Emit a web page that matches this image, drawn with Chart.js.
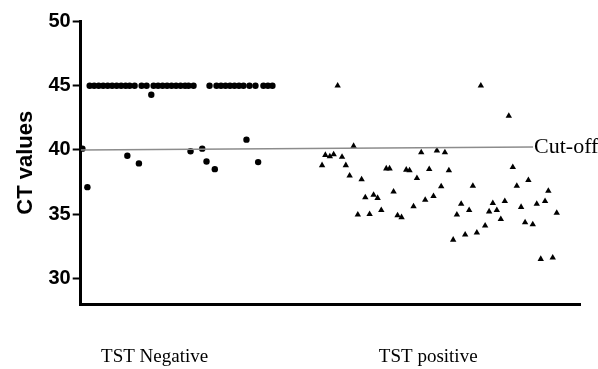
<!DOCTYPE html>
<html>
<head>
<meta charset="utf-8">
<script src="https://cdn.jsdelivr.net/npm/chart.js@4"></script>
<style>
  html, body { margin: 0; padding: 0; background: #fff; }
  canvas { display: block; }
</style>
</head>
<body>
<canvas id="ctChart" width="598" height="369"></canvas>
<script>
// group names under the x axis and where they sit (x is a jitter position 0..500)
const groupNames = ['TST Negative', 'TST positive'];
const groupTickX = [74, 348];
const yTicks = [30, 35, 40, 45, 50];

// TST negative (circles)
const negX = [9, 13.5, 18, 22.5, 27, 31.5, 36, 40.5, 45, 49, 54, 61, 66, 73, 77.5, 82, 86.5, 91, 95.5, 100, 104.5, 108,
  113, 129, 136, 140.5, 145, 149.5, 154, 158.5, 163, 169, 175, 183, 187.5, 192,
  1.7, 6.7, 46.7, 58.3, 70.7, 110, 121.7, 126, 134.3, 166, 177.7];
const negY = [45, 45, 45, 45, 45, 45, 45, 45, 45, 45, 45, 45, 45, 45, 45, 45, 45, 45, 45, 45, 45, 45,
  45, 45, 45, 45, 45, 45, 45, 45, 45, 45, 45, 45, 45, 45,
  40.1, 37.1, 39.55, 38.95, 44.3, 39.9, 40.1, 39.1, 38.5, 40.8, 39.05];

// TST positive (triangles)
const posX = [257.3, 400.7, 428.7, 273.3, 245, 249.5, 253.3, 261.7, 241.7, 265.5, 269.3, 281.3, 341, 356.7, 364.7,
  306, 309.3, 326, 329.3, 349, 368.7, 336.7, 432.7, 448.3, 361, 392.7, 436.7, 468.3, 313.3, 285, 293.3, 297.3,
  277.5, 289.3, 301, 317.3, 321.3, 333.3, 345, 353.3, 381, 376.7, 389, 373, 385, 396.7, 405, 409, 412.7, 416.7,
  420.7, 424.7, 441, 445, 452.7, 456.7, 465, 476.7, 460.7, 472.7];
const posY = [45, 45, 42.65, 40.3, 39.6, 39.5, 39.65, 39.45, 38.8, 38.8, 38, 37.7, 39.8, 39.95, 39.8,
  38.55, 38.55, 38.45, 38.4, 38.5, 38.4, 37.8, 38.65, 37.65, 37.15, 37.2, 37.2, 36.8, 36.75, 36.3, 36.5, 36.25,
  34.95, 35, 35.3, 34.9, 34.75, 35.6, 36.1, 36.4, 35.8, 34.95, 35.3, 33, 33.4, 33.55, 34.1, 35.2, 35.85, 35.3,
  34.6, 36, 35.55, 34.35, 34.2, 35.8, 36, 35.1, 31.5, 31.6];

// cut-off line ends
const cutX = [0, 453];
const cutY = [40, 40.23];
const cutLabel = 'Cut-off';

const sansBold = (size) => ({ family: '"Liberation Sans", Arial, sans-serif', weight: 'bold', size });
const serif = (size) => ({ family: '"Liberation Serif", "Times New Roman", serif', size });

const toPoints = (xs, ys) => xs.map((x, i) => ({ x, y: ys[i] }));

// label at the right end of the cut-off line
const cutLabelPlugin = {
    id: 'cutLabel',
    afterDatasetsDraw(chart) {
        const meta = chart.getDatasetMeta(0);
        const last = meta.data[meta.data.length - 1];
        if (!last) return;
        const ctx = chart.ctx;
        ctx.save();
        ctx.font = '22px "Liberation Serif", "Times New Roman", serif';
        ctx.fillStyle = '#000';
        ctx.textBaseline = 'middle';
        ctx.textAlign = 'left';
        ctx.fillText(cutLabel, last.x + 1, last.y);
        ctx.restore();
    }
};

new Chart(document.getElementById('ctChart'), {
    type: 'scatter',
    data: {
        datasets: [
            {
                type: 'line',
                data: toPoints(cutX, cutY),
                borderColor: '#8c8c8c',
                borderWidth: 1.5,
                pointRadius: 0,
                fill: false
            },
            {
                data: toPoints(negX, negY),
                pointStyle: 'circle',
                pointRadius: 3.2,
                backgroundColor: '#000',
                borderColor: '#000',
                borderWidth: 0,
                clip: false
            },
            {
                data: toPoints(posX, posY),
                pointStyle: 'triangle',
                pointRadius: 3.7,
                backgroundColor: '#000',
                borderColor: '#000',
                borderWidth: 0,
                clip: false
            }
        ]
    },
    options: {
        responsive: false,
        animation: false,
        layout: { padding: { top: 21.5, right: 18, left: 0, bottom: 0 } },
        plugins: { legend: { display: false }, tooltip: { enabled: false } },
        scales: {
            x: {
                type: 'linear',
                min: 0,
                max: 500,
                border: { display: true, color: '#000', width: 3 },
                grid: { drawOnChartArea: false, drawTicks: false },
                afterBuildTicks: (s) => { s.ticks = groupTickX.map(v => ({ value: v })); },
                afterFit: (s) => { s.height = 65; },
                ticks: {
                    autoSkip: false,
                    maxRotation: 0,
                    padding: 42,
                    color: '#000',
                    font: serif(19),
                    callback: (v) => groupNames[groupTickX.indexOf(v)]
                }
            },
            y: {
                min: 28,
                max: 50,
                border: { display: true, color: '#000', width: 3 },
                grid: { drawOnChartArea: false, tickLength: 8, tickColor: '#000', tickWidth: 2 },
                afterBuildTicks: (s) => { s.ticks = yTicks.map(v => ({ value: v })); },
                afterFit: (s) => { s.width = 80.7; },
                ticks: { color: '#000', padding: 2, font: sansBold(20) },
                title: {
                    display: true,
                    text: 'CT values',
                    color: '#000',
                    font: sansBold(22),
                    padding: { top: 13, bottom: 0 }
                }
            }
        }
    },
    plugins: [cutLabelPlugin]
});
</script>
</body>
</html>
